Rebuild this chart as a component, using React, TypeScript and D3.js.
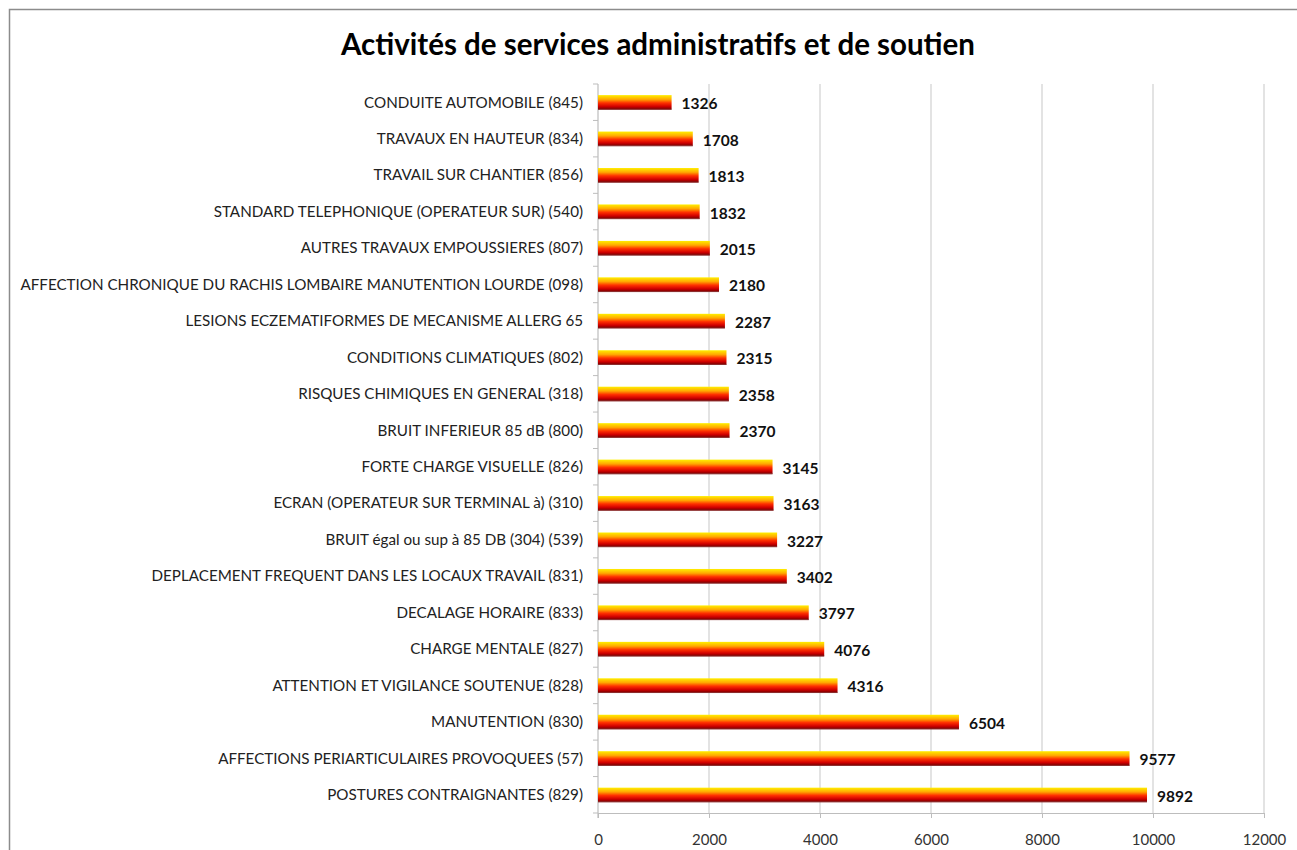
import * as d3 from 'd3'
import { useEffect, useRef } from 'react'

const title = 'Activités de services administratifs et de soutien'

const categories = [
  'CONDUITE AUTOMOBILE (845)',
  'TRAVAUX EN HAUTEUR (834)',
  'TRAVAIL SUR CHANTIER (856)',
  'STANDARD TELEPHONIQUE (OPERATEUR SUR) (540)',
  'AUTRES TRAVAUX EMPOUSSIERES (807)',
  'AFFECTION CHRONIQUE DU RACHIS LOMBAIRE MANUTENTION LOURDE (098)',
  'LESIONS ECZEMATIFORMES DE MECANISME ALLERG 65',
  'CONDITIONS CLIMATIQUES (802)',
  'RISQUES CHIMIQUES EN GENERAL (318)',
  'BRUIT INFERIEUR 85 dB (800)',
  'FORTE CHARGE VISUELLE (826)',
  'ECRAN (OPERATEUR SUR TERMINAL à) (310)',
  'BRUIT égal ou sup à 85 DB (304) (539)',
  'DEPLACEMENT FREQUENT DANS LES LOCAUX TRAVAIL (831)',
  'DECALAGE HORAIRE (833)',
  'CHARGE MENTALE (827)',
  'ATTENTION ET VIGILANCE SOUTENUE (828)',
  'MANUTENTION (830)',
  'AFFECTIONS PERIARTICULAIRES PROVOQUEES (57)',
  'POSTURES CONTRAIGNANTES (829)',
]

const values = [
  1326, 1708, 1813, 1832, 2015, 2180, 2287, 2315, 2358, 2370,
  3145, 3163, 3227, 3402, 3797, 4076, 4316, 6504, 9577, 9892,
]

const xTicks = [0, 2000, 4000, 6000, 8000, 10000, 12000]

const W = 1297, H = 850
const left = 598, right = 1264, top = 84, bottom = 813
const font = 'Lato, "Open Sans", sans-serif'

const chart = (node: SVGSVGElement) => {
  const svg = d3.select(node)
  svg.selectAll('*').remove()

  const x = d3.scaleLinear().domain([0, 12000]).range([left, right])
  const y = d3.scaleBand().domain(categories).range([top, bottom]).paddingInner(0.61).paddingOuter(0.305)

  const defs = svg.append('defs')
  const grad = defs.append('linearGradient')
    .attr('id', 'barGrad').attr('x1', 0).attr('y1', 0).attr('x2', 0).attr('y2', 1)
  const stops: [number, string][] = [
    [0, '#ffef00'], [0.3, '#ffa800'], [0.55, '#ff3000'], [0.8, '#d00000'], [1, '#760000'],
  ]
  grad.selectAll('stop').data(stops).join('stop')
    .attr('offset', d => d[0]).attr('stop-color', d => d[1])

  // border
  svg.append('rect')
    .attr('x', 9.5).attr('y', 9.5).attr('width', W + 20).attr('height', H + 20)
    .attr('fill', 'white').attr('stroke', '#8c8c8c').attr('stroke-width', 1.5)

  svg.append('text')
    .attr('x', 658).attr('y', 55)
    .attr('text-anchor', 'middle')
    .attr('font-family', font).attr('font-weight', 'bold').attr('font-size', 29.5)
    .attr('fill', '#000')
    .text(title)

  // grid
  svg.append('g')
    .selectAll('line').data(xTicks.slice(1)).join('line')
      .attr('x1', d => x(d)).attr('x2', d => x(d))
      .attr('y1', top).attr('y2', bottom)
      .attr('stroke', '#d0d0d0').attr('stroke-width', 1.2)

  // x axis
  const xa = svg.append('g').attr('transform', `translate(0,${bottom})`)
    .call(d3.axisBottom(x).tickValues(xTicks).tickFormat(d3.format('d')).tickSize(5).tickPadding(16))
  xa.select('.domain').attr('stroke', '#bdbdbd')
  xa.selectAll('line').attr('stroke', '#bdbdbd')
  xa.selectAll('text').attr('font-family', font).attr('font-size', 15).attr('fill', '#333')

  // y axis
  const step = y.step()
  const ya = svg.append('g')
  ya.append('line')
    .attr('x1', left).attr('x2', left).attr('y1', top).attr('y2', bottom + 5)
    .attr('stroke', '#bdbdbd').attr('stroke-width', 1.2)
  ya.selectAll('.tk').data(d3.range(categories.length + 1)).join('line')
    .attr('x1', left - 5).attr('x2', left)
    .attr('y1', i => top + i * (bottom - top) / categories.length)
    .attr('y2', i => top + i * (bottom - top) / categories.length)
    .attr('stroke', '#bdbdbd')
  ya.selectAll('text').data(categories).join('text')
    .attr('x', left - 15)
    .attr('y', d => y(d)! + y.bandwidth() / 2)
    .attr('dy', '0.35em')
    .attr('text-anchor', 'end')
    .attr('font-family', font).attr('font-size', 15.2)
    .attr('fill', '#222')
    .text(d => d)

  // bars
  const bars = svg.append('g')
  bars.selectAll('rect').data(values).join('rect')
    .attr('x', left)
    .attr('y', (d, i) => y(categories[i])!)
    .attr('width', d => x(d) - left)
    .attr('height', y.bandwidth())
    .attr('fill', 'url(#barGrad)')
  bars.selectAll('line').data(values).join('line')
    .attr('x1', left).attr('x2', d => x(d))
    .attr('y1', (d, i) => y(categories[i])! + y.bandwidth())
    .attr('y2', (d, i) => y(categories[i])! + y.bandwidth())
    .attr('stroke', '#8a2a2a').attr('stroke-width', 1)

  svg.append('g').selectAll('text').data(values).join('text')
    .attr('x', d => x(d) + 10)
    .attr('y', (d, i) => y(categories[i])! + y.bandwidth() / 2 + step * 0.02)
    .attr('dy', '0.4em')
    .attr('font-family', font).attr('font-weight', 'bold').attr('font-size', 15.5)
    .attr('fill', '#111')
    .text(d => d)
}

export default function App() {
  const ref = useRef<SVGSVGElement>(null)
  useEffect(() => {
    if (ref.current) chart(ref.current)
  }, [])
  return (
    <svg ref={ref} width={W} height={H}
      style={{ position: 'absolute', left: 0, top: 0, display: 'block', background: 'white' }} />
  )
}
